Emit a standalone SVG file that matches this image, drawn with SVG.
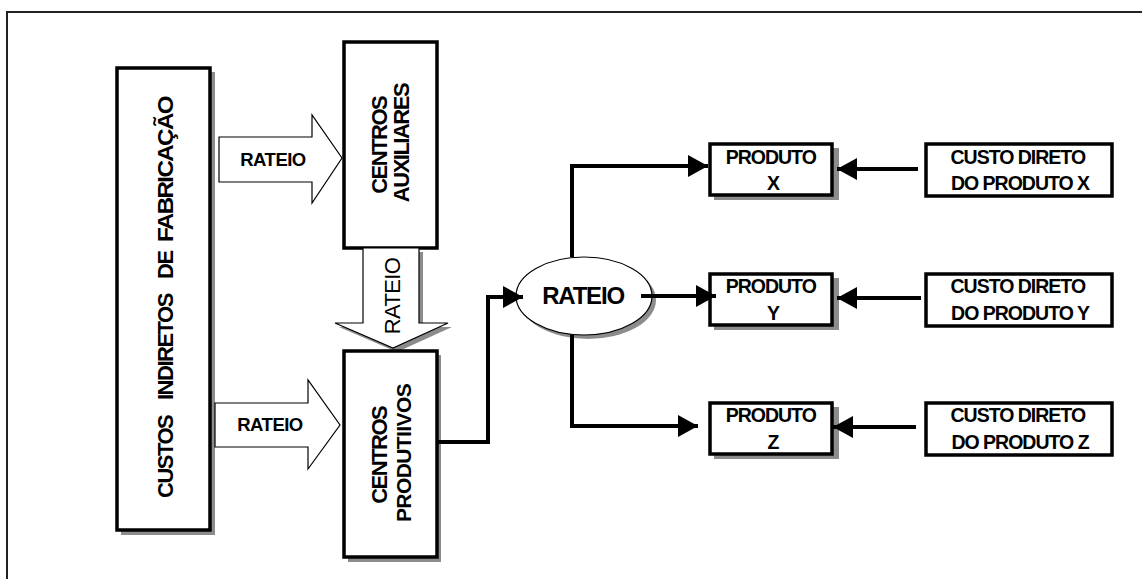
<svg xmlns="http://www.w3.org/2000/svg" width="1142" height="579" viewBox="0 0 1142 579">
  <style>
    .box { fill: #fff; stroke: #000; stroke-width: 3.5; }
    .shadow { fill: #8c8c8c; stroke: none; }
    .block { fill: #fff; stroke: #000; stroke-width: 1.2; stroke-linejoin: miter; }
    .wire { fill: none; stroke: #000; stroke-width: 4; }
    .lbl { font-family: "Liberation Sans", Arial, sans-serif; font-weight: bold; fill: #000; }
    .lbl-reg { font-family: "Liberation Sans", Arial, sans-serif; font-weight: normal; fill: #000; }
    .small { font-size: 19.5px; letter-spacing: -1px; }
    .side { font-size: 22px; letter-spacing: -1.5px; }
  </style>
  <defs>
    <marker id="head" markerWidth="20" markerHeight="22" refX="20" refY="11" orient="auto" markerUnits="userSpaceOnUse">
      <path d="M0,0 L20,11 L0,22 Z" fill="#000"/>
    </marker>
  </defs>

  <rect width="1142" height="579" fill="#fff"/>
  <!-- outer frame -->
  <path d="M7,579 V12 H1142" fill="none" stroke="#222" stroke-width="2"/>

  <!-- CUSTOS INDIRETOS DE FABRICAÇÃO -->
  <g id="custos-indiretos">
    <rect class="shadow" x="121" y="72" width="94" height="463"/>
    <rect class="box" x="117" y="68" width="93" height="462"/>
    <g transform="translate(173,498) rotate(-90)">
      <text class="lbl side">
        <tspan x="0" y="0">CUSTOS</tspan>
        <tspan x="98" y="0">INDIRETOS</tspan>
        <tspan x="219" y="0">DE</tspan>
        <tspan x="256" y="0" textLength="145" lengthAdjust="spacingAndGlyphs">FABRICAÇÃO</tspan>
      </text>
    </g>
  </g>

  <!-- rateio: custos -> centros auxiliares -->
  <g id="rateio-aux">
    <path class="block" d="M219,137 H312 V115 L342,158 L312,203 V182 H219 Z"/>
    <text class="lbl" font-size="18.5" letter-spacing="-0.5" x="273" y="166" text-anchor="middle">RATEIO</text>
  </g>

  <!-- CENTROS AUXILIARES -->
  <g id="centros-auxiliares">
    <rect class="box" x="344" y="42" width="93" height="206"/>
    <g transform="translate(390,143) rotate(-90)">
      <text class="lbl side" text-anchor="middle">
        <tspan x="0" y="-3">CENTROS</tspan>
        <tspan x="0" y="19">AUXILIARES</tspan>
      </text>
    </g>
  </g>

  <!-- rateio: centros auxiliares -> centros produtivos -->
  <g id="rateio-down">
    <path class="shadow" d="M367,252 H423 V327 H452 L397,352 L339,327 H367 Z"/>
    <path class="block" d="M363,248 H419 V323 H448 L393,348 L335,323 H363 Z"/>
    <g transform="translate(400,296) rotate(-90)">
      <text class="lbl-reg" font-size="22" letter-spacing="-0.6" text-anchor="middle" x="0" y="0">RATEIO</text>
    </g>
  </g>

  <!-- rateio: custos -> centros produtivos -->
  <g id="rateio-prod">
    <path class="block" d="M215,403 H308 V380 L340,425 L308,469 V447 H215 Z"/>
    <text class="lbl" font-size="18.5" letter-spacing="-0.5" x="270" y="431" text-anchor="middle">RATEIO</text>
  </g>

  <!-- CENTROS PRODUTIVOS -->
  <g id="centros-produtivos">
    <rect class="shadow" x="348" y="355" width="93" height="207"/>
    <rect class="box" x="344" y="351" width="93" height="206"/>
    <g transform="translate(390,453) rotate(-90)">
      <text class="lbl side" text-anchor="middle">
        <tspan x="0" y="-3">CENTROS</tspan>
        <tspan x="0" y="21" font-size="21" letter-spacing="-0.6">PRODUTIIVOS</tspan>
      </text>
    </g>
  </g>

  <!-- RATEIO ellipse -->
  <g id="rateio-central">
    <ellipse class="shadow" cx="588" cy="300" rx="68" ry="39"/>
    <ellipse cx="584" cy="296" rx="68" ry="39" fill="#fff" stroke="#000" stroke-width="1.2"/>
    <text class="lbl" font-size="24" letter-spacing="-1.2" x="583" y="304" text-anchor="middle">RATEIO</text>
  </g>

  <!-- PRODUTO boxes -->
  <g id="produto-x">
    <rect class="shadow" x="714" y="148" width="125" height="52"/>
    <rect class="box" x="710" y="144" width="122" height="51"/>
    <text class="lbl small" text-anchor="middle">
      <tspan x="773" y="164">PRODUTO</tspan>
      <tspan x="773" y="190">X</tspan>
    </text>
  </g>
  <g id="produto-y">
    <rect class="shadow" x="714" y="278" width="125" height="52"/>
    <rect class="box" x="710" y="274" width="122" height="51"/>
    <text class="lbl small" text-anchor="middle">
      <tspan x="773" y="293">PRODUTO</tspan>
      <tspan x="773" y="320">Y</tspan>
    </text>
  </g>
  <g id="produto-z">
    <rect class="shadow" x="714" y="407" width="125" height="52"/>
    <rect class="box" x="710" y="403" width="122" height="51"/>
    <text class="lbl small" text-anchor="middle">
      <tspan x="773" y="422">PRODUTO</tspan>
      <tspan x="773" y="449">Z</tspan>
    </text>
  </g>

  <!-- CUSTO DIRETO boxes -->
  <g id="custo-direto-x">
    <rect class="box" x="926" y="144" width="186" height="52"/>
    <text class="lbl small" text-anchor="middle">
      <tspan x="1020" y="164">CUSTO DIRETO</tspan>
      <tspan x="1020" y="190">DO PRODUTO X</tspan>
    </text>
  </g>
  <g id="custo-direto-y">
    <rect class="box" x="926" y="274" width="186" height="52"/>
    <text class="lbl small" text-anchor="middle">
      <tspan x="1020" y="293">CUSTO DIRETO</tspan>
      <tspan x="1020" y="320">DO PRODUTO Y</tspan>
    </text>
  </g>
  <g id="custo-direto-z">
    <rect class="box" x="926" y="403" width="186" height="52"/>
    <text class="lbl small" text-anchor="middle">
      <tspan x="1020" y="422">CUSTO DIRETO</tspan>
      <tspan x="1020" y="449">DO PRODUTO Z</tspan>
    </text>
  </g>

  <!-- connectors -->
  <g id="connectors">
    <path class="wire" d="M437,442 H488 V297 H523" marker-end="url(#head)"/>
    <path class="wire" d="M572,257 V166 H708" marker-end="url(#head)"/>
    <path class="wire" d="M641,296 H716" marker-end="url(#head)"/>
    <path class="wire" d="M572,335 V426 H698" marker-end="url(#head)"/>
    <path class="wire" d="M918,169 H837" marker-end="url(#head)"/>
    <path class="wire" d="M921,298 H837" marker-end="url(#head)"/>
    <path class="wire" d="M916,427 H833" marker-end="url(#head)"/>
  </g>
</svg>
